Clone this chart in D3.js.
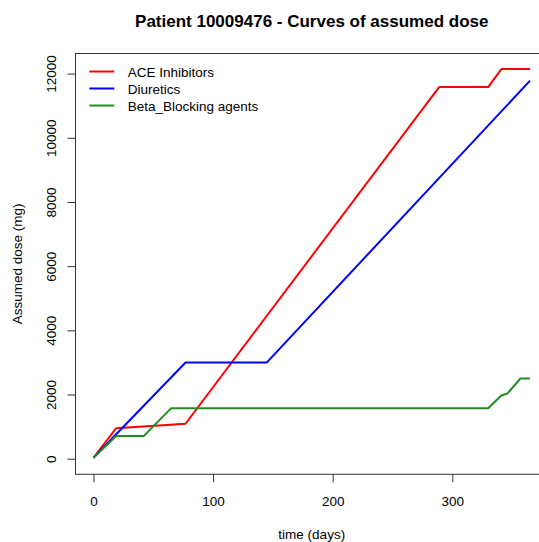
<!DOCTYPE html>
<html>
<head>
<meta charset="utf-8">
<script src="https://cdn.jsdelivr.net/npm/d3@7/dist/d3.min.js"></script>
<style>
  html, body { margin: 0; padding: 0; background: #fff; }
  svg { display: block; font-family: "Liberation Sans", Arial, sans-serif; }
</style>
</head>
<body>
<svg id="chart" width="539" height="542"></svg>
<script>
// Cumulative assumed dose per drug class (day, mg)
const aceDays  = [0, 19, 77, 289, 330, 341, 365];
const aceDose  = [30, 950, 1090, 11580, 11580, 12140, 12140];

const diuDays  = [0, 77, 145, 365];
const diuDose  = [30, 3000, 3000, 11780];

const betaDays = [0, 19, 42, 65, 330, 341, 346, 357, 365];
const betaDose = [30, 705, 705, 1575, 1575, 1970, 2030, 2500, 2500];

const seriesNames  = ["ACE Inhibitors", "Diuretics", "Beta_Blocking agents"];
const seriesColors = ["#ff0000", "#0000ff", "#228b22"];

const xTicks = [0, 100, 200, 300];
const yTicks = [0, 2000, 4000, 6000, 8000, 10000, 12000];

const titleText = "Patient 10009476 - Curves of assumed dose";
const xLabel = "time (days)";
const yLabel = "Assumed dose (mg)";

const series = [
  { name: seriesNames[0], color: seriesColors[0], pts: aceDays.map((d, i) => [d, aceDose[i]]) },
  { name: seriesNames[1], color: seriesColors[1], pts: diuDays.map((d, i) => [d, diuDose[i]]) },
  { name: seriesNames[2], color: seriesColors[2], pts: betaDays.map((d, i) => [d, betaDose[i]]) }
];

// Plot region (right edge lies past the page edge)
const plot = { left: 76, right: 547.5, top: 53.5, bottom: 474.3 };

// Axis limits padded by 4% of the data range on each side
const allDays = series.flatMap(s => s.pts.map(p => p[0]));
const allDose = series.flatMap(s => s.pts.map(p => p[1]));
const xMin = d3.min(allDays), xMax = d3.max(allDays);
const yMin = Math.min(0, d3.min(allDose)), yMax = d3.max(allDose);
const xPad = 0.04 * (xMax - xMin), yPad = 0.04 * (yMax - yMin);

const x = d3.scaleLinear().domain([xMin - xPad, xMax + xPad]).range([plot.left, plot.right]);
const y = d3.scaleLinear().domain([yMin - yPad, yMax + yPad]).range([plot.bottom, plot.top]);

const svg = d3.select("#chart");
const fontPx = 13.5;

// Curves
const line = d3.line().x(p => x(p[0])).y(p => y(p[1]));
svg.append("g").selectAll("path")
  .data(series)
  .join("path")
  .attr("d", s => line(s.pts))
  .attr("fill", "none")
  .attr("stroke", s => s.color)
  .attr("stroke-width", 2)
  .attr("stroke-linejoin", "round");

// Frame around plot region
svg.append("rect")
  .attr("x", plot.left - 0.5)
  .attr("y", plot.top)
  .attr("width", plot.right - plot.left)
  .attr("height", plot.bottom - plot.top)
  .attr("fill", "none")
  .attr("stroke", "#333")
  .attr("stroke-width", 1);

// X axis
const gx = svg.append("g")
  .attr("transform", `translate(0,${plot.bottom})`)
  .call(d3.axisBottom(x).tickValues(xTicks).tickSize(8).tickSizeOuter(0).tickFormat(d3.format("d")));
gx.select(".domain").remove();
gx.selectAll(".tick line").attr("stroke", "#333");
gx.selectAll(".tick text")
  .attr("y", 31.5).attr("dy", 0)
  .attr("fill", "#000")
  .style("font-size", fontPx + "px")
  .style("font-family", "'Liberation Sans', Arial, sans-serif");

// Y axis with labels parallel to the axis
const gy = svg.append("g")
  .attr("transform", `translate(${plot.left - 0.5},0)`)
  .call(d3.axisLeft(y).tickValues(yTicks).tickSize(8).tickSizeOuter(0).tickFormat(d3.format("d")));
gy.select(".domain").remove();
gy.selectAll(".tick line").attr("stroke", "#333");
gy.selectAll(".tick text")
  .attr("transform", "rotate(-90)")
  .attr("x", 0).attr("y", -19.5).attr("dy", 0)
  .attr("text-anchor", "middle")
  .attr("fill", "#000")
  .style("font-size", fontPx + "px")
  .style("font-family", "'Liberation Sans', Arial, sans-serif");

const plotMidX = (plot.left + plot.right) / 2;
const plotMidY = (plot.top + plot.bottom) / 2;

// Title
svg.append("text")
  .attr("x", plotMidX).attr("y", 27)
  .attr("text-anchor", "middle")
  .style("font-size", "17px")
  .style("font-weight", "bold")
  .text(titleText);

// Axis titles
svg.append("text")
  .attr("x", plotMidX).attr("y", 539)
  .attr("text-anchor", "middle")
  .style("font-size", fontPx + "px")
  .text(xLabel);

svg.append("text")
  .attr("transform", `translate(22,${plotMidY}) rotate(-90)`)
  .attr("text-anchor", "middle")
  .style("font-size", fontPx + "px")
  .text(yLabel);

// Legend
const legend = svg.append("g").attr("transform", "translate(89.3,71.5)");
const rowH = 17;
legend.selectAll("line")
  .data(series)
  .join("line")
  .attr("x1", 0).attr("x2", 25)
  .attr("y1", (d, i) => i * rowH).attr("y2", (d, i) => i * rowH)
  .attr("stroke", d => d.color)
  .attr("stroke-width", 2);
legend.selectAll("text")
  .data(series)
  .join("text")
  .attr("x", 38.4)
  .attr("y", (d, i) => i * rowH + 5)
  .style("font-size", fontPx + "px")
  .text(d => d.name);
</script>
</body>
</html>
